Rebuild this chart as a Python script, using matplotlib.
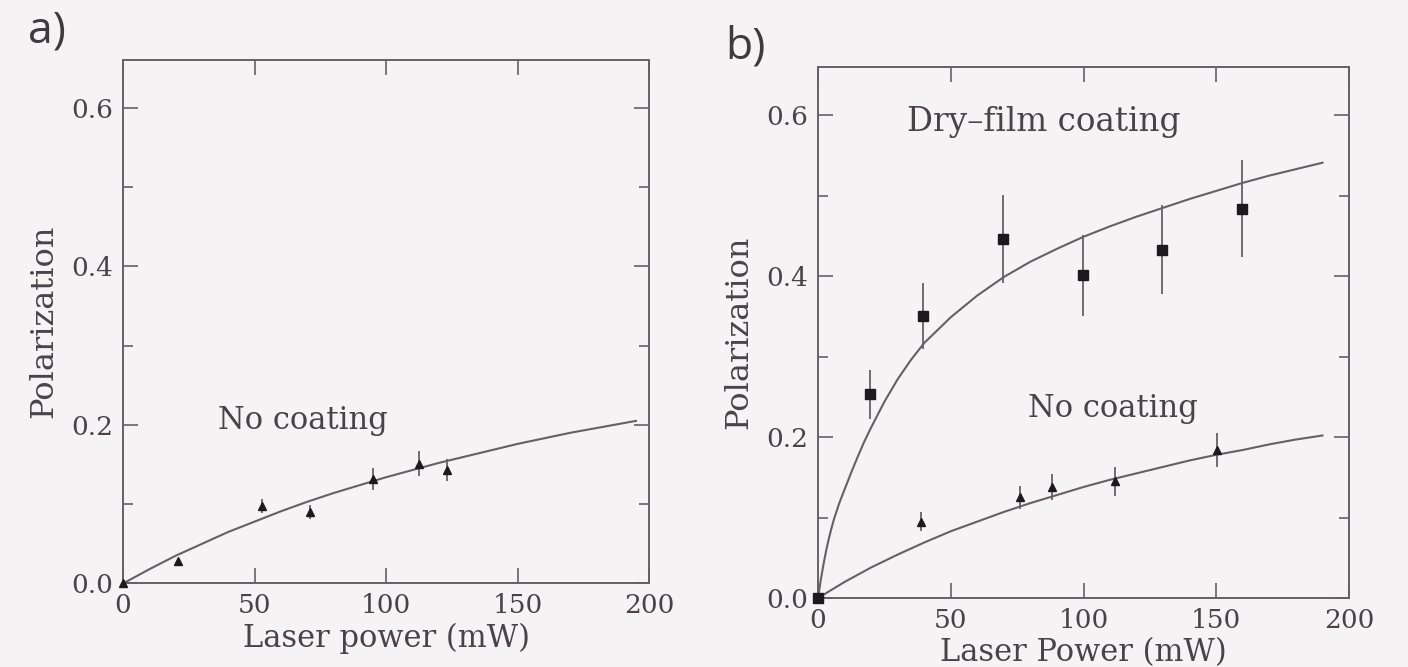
import matplotlib.pyplot as plt
from matplotlib.ticker import MultipleLocator

# panel a) : no coating
a_power = [0, 21, 53, 71, 95, 112.5, 123]
a_pol = [0.0, 0.028, 0.098, 0.090, 0.132, 0.151, 0.143]
a_err = [0, 0, 0.009, 0.009, 0.014, 0.016, 0.014]

a_fit_x = [0, 10, 20, 30, 40, 50, 60, 70, 80, 90, 100, 110, 120, 130, 140,
           150, 160, 170, 180, 190, 195]
a_fit_y = [0.0, 0.018, 0.035, 0.050, 0.065, 0.078, 0.091, 0.103, 0.114, 0.124,
           0.134, 0.143, 0.152, 0.160, 0.168, 0.176, 0.183, 0.190, 0.196,
           0.202, 0.205]

# panel b) : dry-film coating
dry_power = [0, 19.7, 39.6, 69.8, 99.8, 129.5, 159.8]
dry_pol = [0.0, 0.253, 0.351, 0.446, 0.401, 0.433, 0.484]
dry_err = [0, 0.031, 0.041, 0.055, 0.050, 0.055, 0.060]

dry_fit_x = [0, 1, 2, 3, 4, 5, 6, 8, 10, 12.5, 15, 17.5, 20, 25, 30, 35, 40,
             50, 60, 70, 80, 90, 100, 110, 120, 130, 140, 150, 160, 170, 180,
             190]
dry_fit_y = [0.0, 0.022, 0.041, 0.058, 0.073, 0.086, 0.098, 0.118, 0.135,
             0.156, 0.176, 0.195, 0.212, 0.244, 0.272, 0.296, 0.317, 0.349,
             0.376, 0.399, 0.418, 0.434, 0.449, 0.462, 0.474, 0.485, 0.496,
             0.506, 0.516, 0.525, 0.533, 0.541]

# panel b) : no coating
nc_power = [0, 38.7, 76, 88.3, 112, 150.3]
nc_pol = [0.0, 0.095, 0.125, 0.138, 0.145, 0.184]
nc_err = [0, 0.012, 0.014, 0.016, 0.018, 0.021]

nc_fit_x = [0, 10, 20, 30, 40, 50, 60, 70, 80, 90, 100, 110, 120, 130, 140,
            150, 160, 170, 180, 190]
nc_fit_y = [0.0, 0.020, 0.038, 0.054, 0.069, 0.083, 0.095, 0.107, 0.118,
            0.128, 0.138, 0.147, 0.155, 0.163, 0.171, 0.178, 0.184, 0.191,
            0.197, 0.202]

bg = '#f6f3f4'
ink = '#4a4249'
line_c = '#675f66'
serif = 'DejaVu Serif'

fig = plt.figure(figsize=(14.08, 6.67), dpi=100, facecolor=bg)


def setup(ax, xlabel):
    ax.set_facecolor(bg)
    ax.set_xlim(0, 200)
    ax.set_ylim(0, 0.66)
    ax.xaxis.set_major_locator(MultipleLocator(50))
    ax.yaxis.set_major_locator(MultipleLocator(0.2))
    ax.yaxis.set_minor_locator(MultipleLocator(0.1))
    ax.yaxis.set_major_formatter(lambda v, p: f'{v:.1f}')
    ax.tick_params(which='both', direction='in', top=True, right=True,
                   colors=line_c, labelcolor=ink, labelsize=19, width=1.2)
    ax.tick_params(which='major', length=11)
    ax.tick_params(which='minor', length=7)
    ax.tick_params(axis='x', pad=7)
    ax.tick_params(axis='y', pad=7)
    for lab in ax.get_xticklabels() + ax.get_yticklabels():
        lab.set_family(serif)
    for s in ax.spines.values():
        s.set_color(line_c)
        s.set_linewidth(1.4)
    ax.set_xlabel(xlabel, family=serif, fontsize=22, color=ink, labelpad=3)
    ax.set_ylabel('Polarization', family=serif, fontsize=23, color=ink,
                  labelpad=9)


def data(ax, x, y, err, marker, ms):
    ax.errorbar(x, y, yerr=err, fmt='none', ecolor=line_c, elinewidth=1.3,
                capsize=0, clip_on=False)
    ax.plot(x, y, linestyle='none', marker=marker, ms=ms, color='#1c1a1c',
            clip_on=False, zorder=5)


# ---- panel a
ax1 = fig.add_axes([0.0874, 0.1252, 0.3736, 0.7848])
setup(ax1, 'Laser power (mW)')
ax1.plot(a_fit_x, a_fit_y, color=line_c, lw=1.5)
data(ax1, a_power, a_pol, a_err, '^', 5.5)
ax1.text(36, 0.205, 'No coating', family=serif, fontsize=22, color=ink,
         ha='left', va='center')
fig.text(28 / 1408, 1 - 31 / 667, 'a)', fontsize=32, color='#3e3a3e',
         family='Open Sans', ha='left', va='center')

# ---- panel b
ax2 = fig.add_axes([0.5810, 0.1034, 0.3771, 0.7962])
setup(ax2, 'Laser Power (mW)')
ax2.plot(dry_fit_x, dry_fit_y, color=line_c, lw=1.5)
ax2.plot(nc_fit_x, nc_fit_y, color=line_c, lw=1.5)
data(ax2, nc_power, nc_pol, nc_err, '^', 5.5)
data(ax2, dry_power, dry_pol, dry_err, 's', 6.5)
ax2.text(33.5, 0.592, 'Dry\u2013film coating', family=serif, fontsize=23.5,
         color=ink, ha='left', va='center')
ax2.text(79, 0.235, 'No coating', family=serif, fontsize=22, color=ink,
         ha='left', va='center')
fig.text(725 / 1408, 1 - 47 / 667, 'b)', fontsize=32, color='#3e3a3e',
         family='Open Sans', ha='left', va='center')

fig.savefig('out.png', dpi=100, facecolor=bg)
